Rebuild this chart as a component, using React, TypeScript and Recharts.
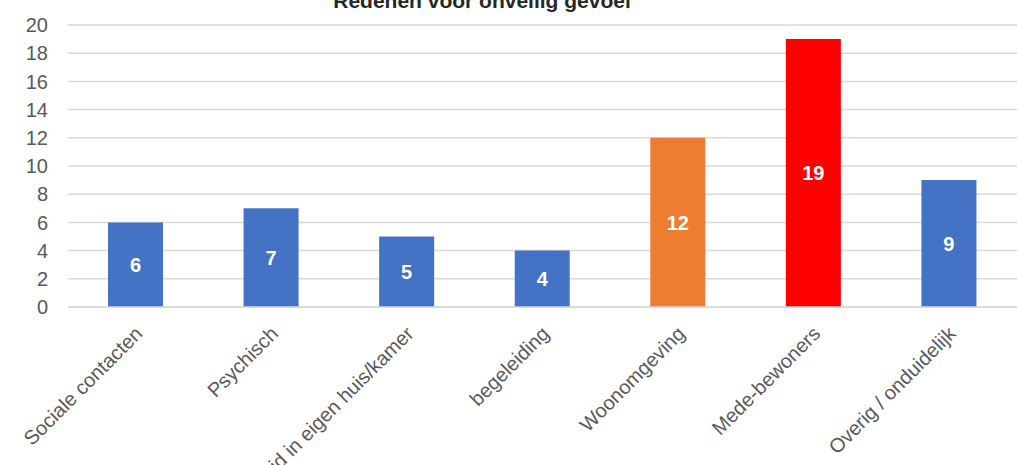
import { BarChart, Bar, XAxis, YAxis, CartesianGrid, Cell, LabelList } from "recharts";

const categories = [
  "Sociale contacten",
  "Psychisch",
  "Onveiligheid in eigen huis/kamer",
  "begeleiding",
  "Woonomgeving",
  "Mede-bewoners",
  "Overig / onduidelijk",
];
const counts = [6, 7, 5, 4, 12, 19, 9];
const barColors = ["#4472C4", "#4472C4", "#4472C4", "#4472C4", "#ED7D31", "#FF0000", "#4472C4"];
const yTicks = [0, 2, 4, 6, 8, 10, 12, 14, 16, 18, 20];

const rows = categories.map((name, i) => ({ name, value: counts[i] }));

const FONT = "'Liberation Sans', Arial, sans-serif";

const XTick = ({ x, y, payload }: any) => (
  <g transform={`translate(${x + 3},${y + 15})`}>
    <text
      transform="rotate(-45)"
      textAnchor="end"
      dy="0.35em"
      fill="#595959"
      fontSize={20}
      fontFamily={FONT}
    >
      {payload.value}
    </text>
  </g>
);

export default function App() {
  return (
    <div style={{ position: "absolute", left: 0, top: 0, width: 1017, height: 465, background: "#fff", overflow: "hidden" }}>
      <div
        style={{
          position: "absolute",
          left: 482,
          top: -11,
          transform: "translateX(-50%)",
          whiteSpace: "nowrap",
          fontFamily: FONT,
          fontWeight: "bold",
          fontSize: 21,
          lineHeight: "24px",
          color: "#262626",
        }}
      >
        Redenen voor onveilig gevoel
      </div>
      <BarChart
        width={1017}
        height={465}
        data={rows}
        margin={{ top: 25, right: 0, bottom: 0, left: 0 }}
      >
        <CartesianGrid vertical={false} stroke="#d9d9d9" strokeWidth={1.5} />
        <XAxis
          dataKey="name"
          interval={0}
          tick={<XTick />}
          tickLine={false}
          axisLine={{ stroke: "#d9d9d9", strokeWidth: 1.5 }}
          height={158}
        />
        <YAxis
          domain={[0, 20]}
          ticks={yTicks}
          width={68}
          tickLine={false}
          axisLine={false}
          tickSize={0}
          tickMargin={20}
          tick={{ fill: "#595959", fontSize: 20, fontFamily: FONT }}
        />
        <Bar dataKey="value" barSize={55} isAnimationActive={false}>
          {rows.map((r, i) => (
            <Cell key={r.name} fill={barColors[i]} />
          ))}
          <LabelList
            dataKey="value"
            position="center"
            fill="#ffffff"
            fontSize={20}
            fontWeight="bold"
            fontFamily={FONT}
          />
        </Bar>
      </BarChart>
    </div>
  );
}
